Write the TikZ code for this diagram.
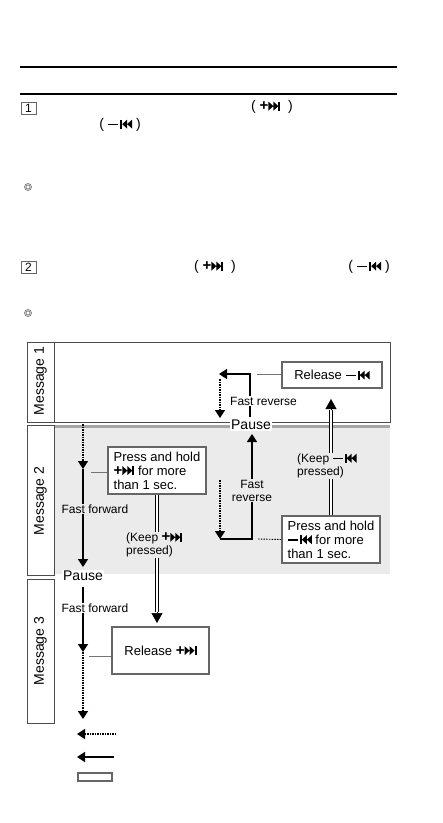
\documentclass[tikz,border=0pt]{standalone}
\usepackage{fontspec}
\setmainfont{Liberation Sans}
\usetikzlibrary{arrows.meta}
\newcommand\nxt{\tikz[x=1pt,y=1pt,baseline=0pt]{\fill (0,0)--(5,4.5)--(0,9)--cycle (5,0)--(10,4.5)--(5,9)--cycle; \fill (10,0) rectangle (12,9);}}
\newcommand\prv{\tikz[x=1pt,y=1pt,baseline=0pt]{\fill (0,0) rectangle (2,9); \fill (7,0)--(2,4.5)--(7,9)--cycle (12,0)--(7,4.5)--(12,9)--cycle;}}
\newcommand\mns{\raisebox{3.6pt}{\rule{10pt}{1.5pt}}}
\newcommand\pls{{\fontsize{15}{15}\selectfont\bfseries +}}
\definecolor{bggray}{gray}{0.92}
\tikzset{
 box/.style={draw=black!60, line width=1.6pt, fill=white, align=left, inner sep=2pt, font=\fontsize{13}{14}\selectfont},
 lbl/.style={font=\fontsize{12}{13}\selectfont, align=left, inner sep=1pt},
 big/.style={font=\fontsize{14}{15}\selectfont, inner sep=1pt},
 tip/.style={-{Triangle[length=8pt,width=10pt]}},
 flow/.style={line width=1.6pt, tip},
 dots/.style={line width=1.6pt, dash pattern=on 1.5pt off 1pt, tip},
 dbl/.style={double distance=1.6pt, line width=1.2pt, draw=black},
 tie/.style={draw=black!55, line width=0.9pt},
 msg/.style={draw=black!70, line width=0.8pt},
 num/.style={draw=black!60, line width=0.6pt, inner sep=1pt, minimum width=15pt, minimum height=12pt, font=\fontsize{12}{12}\selectfont},
 paren/.style={font=\fontsize{14}{15}\selectfont, inner sep=1pt},
}
\begin{document}
\begin{tikzpicture}[x=1pt,y=-1pt]
\useasboundingbox (0,0) rectangle (443,823);
% header rules
\draw[line width=2pt] (20,67) -- (397,67);
\draw[line width=1.6pt] (20,94) -- (397,94);
\node[num] (n1) at (28.5,108) {1};
\node[paren] (k1) at (272,107) {(~\pls\nxt~~)};
\node[paren] (k2) at (120,125) {(~\mns\,\prv~)};
\draw[black!60, line width=0.6pt] (28,187) circle (3.5) (28,187) circle (2);
\node[num] (n2) at (28.5,267) {2};
\node[paren] (k3) at (215,267) {(~\pls\nxt~~)};
\node[paren] (k4) at (369,267) {(~\mns\,\prv~)};
\draw[black!60, line width=0.6pt] (28,313) circle (3.5) (28,313) circle (2);
% message frames
\fill[bggray] (54,425) rectangle (390,574);
\draw[black!35, line width=2.5pt] (54,426.5) -- (390,426.5);
\draw[msg] (27,342) rectangle (390,422);
\draw[msg] (54,342) -- (54,422);
\draw[msg, fill=white] (27,425) rectangle (54,575);
\draw[msg, fill=white] (27,579) rectangle (54,723);
\node[big, rotate=90] (m1) at (40.5,381) {Message 1};
\node[big, rotate=90] (m2) at (40.5,501) {Message 2};
\node[big, rotate=90] (m3) at (40.5,651) {Message 3};
% boxes
\node[box, minimum width=98pt, minimum height=47pt] (pp) at (157,470.5) {Press and hold\\\pls\nxt\ for more\\than 1 sec.};
\node[box, minimum width=97pt, minimum height=47pt] (rp) at (160.5,650.5) {Release \pls\nxt};
\node[box, minimum width=98pt, minimum height=47pt] (pm) at (331,539.5) {Press and hold\\\mns\,\prv\ for more\\than 1 sec.};
\node[box, minimum width=100pt, minimum height=26pt] (rm) at (332,375) {Release \mns\,\prv};
% left flow
\coordinate (l0) at (83,424);
\coordinate (l1) at (83,469);
\coordinate (l2) at (83,567);
\coordinate (l2b) at (83,587);
\coordinate (l3) at (83,652);
\coordinate (l4) at (83,719);
\draw[dots] (l0) -- (l1);
\draw[flow] (l1) -- (l2);
\draw[flow] (l2b) -- (l3);
\draw[dots] (l3) -- (l4);
\coordinate (c1) at (91,472);
\draw[tie] (c1) -- (c1 -| pp.west);
\coordinate (c2) at (89,656);
\draw[tie] (c2) -- (c2 -| rp.west);
\node[lbl, fill=bggray] (ff1) at (95,509) {Fast forward};
\node[big, fill=white] (p2) at (83,576) {Pause};
\node[lbl, fill=white] (ff2) at (95,608) {Fast forward};
% keep + pressed
\coordinate (d1) at (157,612);
\coordinate (d1t) at (157,623);
\draw[dbl] (pp.south) -- (d1);
\draw[line width=0.5pt, -{Triangle[length=10pt,width=11pt]}] (d1) -- (d1t);
\node[lbl, fill=bggray, anchor=west] (kp) at (125,545) {(Keep \pls\nxt\\pressed)};
% right flow in message 2
\coordinate (r0) at (220,480);
\coordinate (r1) at (220,539);
\coordinate (rc) at (252,539);
\coordinate (rt) at (252,434);
\coordinate (rd) at (258,539);
\draw[dots] (r0) -- (r1);
\draw[flow] (r1) -- (rc) -- (rt);
\draw[line width=0.9pt, dash pattern=on 1.5pt off 1.2pt] (pm.west) -- (rd);
\node[lbl, fill=bggray, align=center] (fr2) at (252,490.5) {Fast\\reverse};
% keep - pressed
\coordinate (d2) at (331,410);
\coordinate (d2t) at (331,399);
\draw[dbl] (pm.north) -- (d2);
\draw[line width=0.5pt, -{Triangle[length=10pt,width=11pt]}] (d2) -- (d2t);
\node[lbl, fill=bggray, anchor=west] (km) at (296,466) {(Keep \mns\,\prv\\pressed)};
% message 1 flow
\coordinate (t0) at (250,417);
\coordinate (t1) at (250,374);
\coordinate (t2) at (219,374);
\coordinate (t3) at (220,379);
\coordinate (t4) at (220,418);
\draw[flow] (t0) -- (t1) -- (t2);
\draw[dots] (t3) -- (t4);
\coordinate (c3) at (257,374);
\draw[tie] (c3) -- (c3 -| rm.west);
\node[lbl, fill=white, anchor=west] (fr1) at (229,401) {Fast reverse};
\node[big, fill=white] (p1) at (251,425) {Pause};
% legend
\coordinate (g1) at (116,734);
\coordinate (g1t) at (77,734);
\coordinate (g2) at (114,757);
\coordinate (g2t) at (77,757);
\draw[dots] (g1) -- (g1t);
\draw[flow] (g2) -- (g2t);
\draw[draw=black!60, line width=1.6pt, fill=white] (77.8,772.8) rectangle (112.2,781.2);
\end{tikzpicture}
\end{document}
